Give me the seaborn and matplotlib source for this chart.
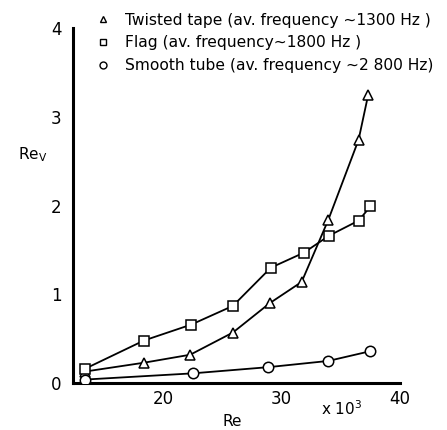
import matplotlib
matplotlib.use("Agg")
import matplotlib.pyplot as plt
from matplotlib.lines import Line2D
import seaborn as sns
import pandas as pd

# Reynolds number (x10^3) and vortex Reynolds number for each insert
re_tape = [13.4, 18.4, 22.3, 25.9, 29.0, 31.7, 33.95, 36.5, 37.3]
rev_tape = [0.13, 0.23, 0.32, 0.57, 0.90, 1.14, 1.84, 2.74, 3.24]

re_flag = [13.4, 18.4, 22.4, 25.9, 29.1, 31.9, 34.0, 36.5, 37.5]
rev_flag = [0.16, 0.48, 0.66, 0.87, 1.30, 1.47, 1.66, 1.83, 1.99]

re_smooth = [13.4, 22.5, 28.9, 33.95, 37.5]
rev_smooth = [0.04, 0.11, 0.18, 0.25, 0.36]

labels = [
    "Twisted tape (av. frequency ~1300 Hz )",
    "Flag (av. frequency~1800 Hz )",
    "Smooth tube (av. frequency ~2 800 Hz)",
]
markers = ["^", "s", "o"]

sns.set_style("white")
plt.rcParams["font.family"] = ["DejaVu Sans"]
plt.rcParams["text.color"] = "black"
plt.rcParams["xtick.color"] = "black"
plt.rcParams["ytick.color"] = "black"

fig = plt.figure(figsize=(4.47, 4.30), dpi=100)
ax = fig.add_axes([0.163, 0.109, 0.732, 0.826])

series = [(re_tape, rev_tape, 7), (re_flag, rev_flag, 7.5), (re_smooth, rev_smooth, 7.5)]
for (xs, ys, ms), mk in zip(series, markers):
    df = pd.DataFrame({"Re": xs, "Rev": ys})
    sns.lineplot(data=df, x="Re", y="Rev", ax=ax, color="black", lw=1.3,
                 marker=mk, markersize=ms, markerfacecolor="white",
                 markeredgecolor="black", markeredgewidth=1.1, zorder=3)

ax.set_xlim(12.4, 40)
ax.set_ylim(0, 4)
ax.set_xticks([20, 30, 40])
ax.set_yticks([0, 1, 2, 3, 4])
ax.tick_params(direction="in", length=8, width=1.3, labelsize=12, pad=5,
               colors="black")
ax.tick_params(axis="y", pad=8)
for s in ["top", "right"]:
    ax.spines[s].set_visible(False)
for s in ["left", "bottom"]:
    ax.spines[s].set_linewidth(2.2)
    ax.spines[s].set_color("black")
ax.set_xlabel("")
ax.set_ylabel("")

fig.text(232 / 447, 1 - 422 / 430, "Re", ha="center", va="center", fontsize=11)
fig.text(33 / 447, 1 - 155 / 430, r"Re$_\mathregular{V}$", ha="center", va="center", fontsize=11)
fig.text(342 / 447, 1 - 409 / 430, r"x 10$^\mathregular{3}$", ha="center", va="center", fontsize=11)

handles = [Line2D([], [], ls="none", marker=m, color="black", mfc="white",
                  markersize=5, markeredgewidth=1.0) for m in markers]
fig.legend(handles, labels, loc="upper left", bbox_to_anchor=(0.199, 0.985),
           frameon=False, fontsize=11.2, handletextpad=0.9, labelspacing=0.5,
           handlelength=1.0, borderaxespad=0, labelcolor="black")

fig.savefig("out.png", dpi=100)
